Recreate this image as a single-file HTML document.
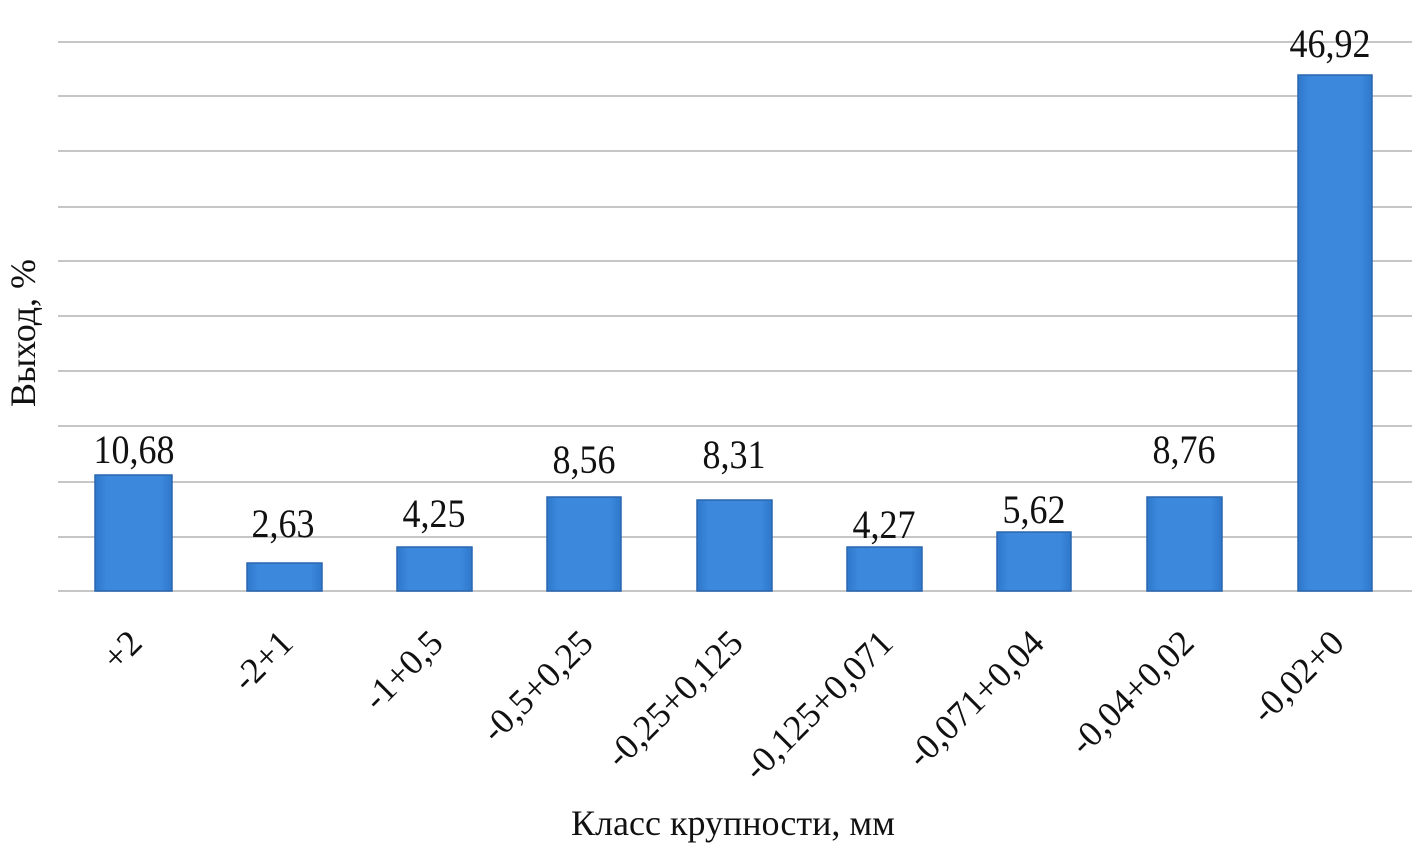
<!DOCTYPE html>
<html>
<head>
<meta charset="utf-8">
<style>
html,body{margin:0;padding:0;background:#fff;}
svg{display:block;}
text{font-family:"Liberation Serif","DejaVu Serif",serif;fill:#111;}
</style>
</head>
<body>
<svg width="1426" height="851" viewBox="0 0 1426 851" xmlns="http://www.w3.org/2000/svg">
<defs>
<linearGradient id="bg" x1="0" x2="1" y1="0" y2="0">
<stop offset="0" stop-color="#2f78cc"/>
<stop offset="0.15" stop-color="#3b88dc"/>
<stop offset="0.85" stop-color="#3b88dc"/>
<stop offset="1" stop-color="#2f78cc"/>
</linearGradient>
</defs>
<g stroke="#c6c6c6" stroke-width="2">
<line x1="58" x2="1412" y1="42" y2="42"/>
<line x1="58" x2="1412" y1="96" y2="96"/>
<line x1="58" x2="1412" y1="151" y2="151"/>
<line x1="58" x2="1412" y1="207" y2="207"/>
<line x1="58" x2="1412" y1="261" y2="261"/>
<line x1="58" x2="1412" y1="316" y2="316"/>
<line x1="58" x2="1412" y1="371" y2="371"/>
<line x1="58" x2="1412" y1="426" y2="426"/>
<line x1="58" x2="1412" y1="482" y2="482"/>
<line x1="58" x2="1412" y1="537" y2="537"/>
<line x1="58" x2="1412" y1="591" y2="591"/>
</g>
<g fill="url(#bg)" stroke="#2a66ad" stroke-width="1.5">
<rect x="95" y="475" width="77" height="116"/>
<rect x="247" y="563" width="75" height="28"/>
<rect x="397" y="547" width="75" height="44"/>
<rect x="547" y="497" width="74" height="94"/>
<rect x="697" y="500" width="75" height="91"/>
<rect x="847" y="547" width="75" height="44"/>
<rect x="997" y="532" width="74" height="59"/>
<rect x="1147" y="497" width="75" height="94"/>
<rect x="1298" y="75" width="74" height="516"/>
</g>
<g font-size="36" text-anchor="middle">
<text transform="translate(134,463) scale(1,1.12)">10,68</text>
<text transform="translate(283,537) scale(1,1.12)">2,63</text>
<text transform="translate(434,527) scale(1,1.12)">4,25</text>
<text transform="translate(584,473) scale(1,1.12)">8,56</text>
<text transform="translate(734,468) scale(1,1.12)">8,31</text>
<text transform="translate(884,538) scale(1,1.12)">4,27</text>
<text transform="translate(1034,523) scale(1,1.12)">5,62</text>
<text transform="translate(1184,463) scale(1,1.12)">8,76</text>
<text transform="translate(1330,57) scale(1,1.12)">46,92</text>
</g>
<g font-size="36" text-anchor="end">
<text transform="translate(144,645) rotate(-45)">+2</text>
<text transform="translate(295,645) rotate(-45)">-2+1</text>
<text transform="translate(445,645) rotate(-45)">-1+0,5</text>
<text transform="translate(595,645) rotate(-45)">-0,5+0,25</text>
<text transform="translate(745,645) rotate(-45)">-0,25+0,125</text>
<text transform="translate(895,645) rotate(-45)">-0,125+0,071</text>
<text transform="translate(1046,645) rotate(-45)">-0,071+0,04</text>
<text transform="translate(1196,645) rotate(-45)">-0,04+0,02</text>
<text transform="translate(1346,645) rotate(-45)">-0,02+0</text>
</g>
<text x="733" y="835" font-size="36" text-anchor="middle">Класс крупности, мм</text>
<text transform="translate(35,333) rotate(-90)" font-size="36" text-anchor="middle">Выход, %</text>
</svg>
</body>
</html>
